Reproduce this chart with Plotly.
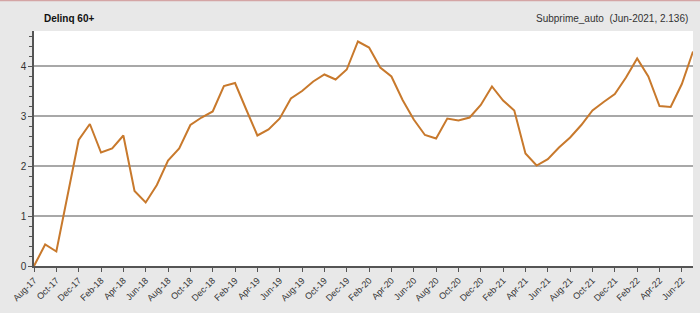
import plotly.graph_objects as go

months = ["Aug-17","Sep-17","Oct-17","Nov-17","Dec-17","Jan-18","Feb-18","Mar-18","Apr-18","May-18",
          "Jun-18","Jul-18","Aug-18","Sep-18","Oct-18","Nov-18","Dec-18","Jan-19","Feb-19","Mar-19",
          "Apr-19","May-19","Jun-19","Jul-19","Aug-19","Sep-19","Oct-19","Nov-19","Dec-19","Jan-20",
          "Feb-20","Mar-20","Apr-20","May-20","Jun-20","Jul-20","Aug-20","Sep-20","Oct-20","Nov-20",
          "Dec-20","Jan-21","Feb-21","Mar-21","Apr-21","May-21","Jun-21","Jul-21","Aug-21","Sep-21",
          "Oct-21","Nov-21","Dec-21","Jan-22","Feb-22","Mar-22","Apr-22","May-22","Jun-22","Jul-22"]

values = [0.00, 0.43, 0.29, 1.42, 2.52, 2.84, 2.27, 2.35, 2.61, 1.50,
          1.27, 1.62, 2.11, 2.35, 2.82, 2.97, 3.09, 3.60, 3.66, 3.13,
          2.61, 2.73, 2.95, 3.35, 3.50, 3.69, 3.83, 3.73, 3.93, 4.49,
          4.37, 3.97, 3.79, 3.32, 2.93, 2.62, 2.55, 2.95, 2.91, 2.97,
          3.22, 3.59, 3.31, 3.11, 2.25, 2.01, 2.136, 2.37, 2.57, 2.82,
          3.11, 3.28, 3.44, 3.77, 4.15, 3.79, 3.20, 3.18, 3.64, 4.29]

tick_labels = months[::2]
ytick_vals = [0, 1, 2, 3, 4]

x_idx = list(range(len(months)))

fig = go.Figure()
fig.add_trace(go.Scatter(
    x=x_idx, y=values, mode="lines",
    line=dict(color="#c8792c", width=2),
    name="Subprime_auto", hoverinfo="skip"))

W, H = 700, 313
ml, mr, mt, mb = 34, 7, 31, 47
pw, ph = W - ml - mr, H - mt - mb

fig.update_layout(
    width=W, height=H,
    margin=dict(l=ml, r=mr, t=mt, b=mb),
    paper_bgcolor="#e8e8e8",
    plot_bgcolor="#ffffff",
    showlegend=False,
    font=dict(family="Arial, Liberation Sans, sans-serif", color="#333333", size=10),
    xaxis=dict(
        range=[0, len(months) - 1],
        tickmode="array",
        tickvals=x_idx[::2],
        ticktext=tick_labels,
        tickangle=-45,
        ticks="outside", ticklen=4, tickcolor="#555555",
        showline=True, linecolor="#555555", linewidth=1.5,
        showgrid=False, zeroline=False,
        tickfont=dict(size=9, color="#333333"),
        fixedrange=True,
    ),
    yaxis=dict(
        range=[0, 4.7],
        tickmode="array",
        tickvals=ytick_vals,
        ticks="outside", ticklen=4, tickcolor="#555555",
        showline=True, linecolor="#555555", linewidth=1.5,
        showgrid=True, gridcolor="#a8a8a8", gridwidth=1.5,
        zeroline=False,
        tickfont=dict(size=10, color="#333333"),
        minor=dict(dtick=0.2, ticks="outside", ticklen=3, tickcolor="#555555", showgrid=False),
        fixedrange=True,
    ),
    annotations=[
        dict(text="<b>Delinq 60+</b>", xref="paper", yref="paper",
             x=(42 - ml) / pw, y=1 + (mt - 18) / ph, xanchor="left", yanchor="middle",
             showarrow=False, font=dict(size=10, color="#111111")),
        dict(text="Subprime_auto  (Jun-2021, 2.136)", xref="paper", yref="paper",
             x=(690 - ml) / pw, y=1 + (mt - 19) / ph, xanchor="right", yanchor="middle",
             showarrow=False, font=dict(size=10, color="#333333")),
    ],
    shapes=[
        dict(type="line", xref="paper", yref="paper",
             x0=-ml / pw, x1=1 + mr / pw, y0=1 + (mt - 0.5) / ph, y1=1 + (mt - 0.5) / ph,
             line=dict(color="#d4a5a5", width=1.5)),
    ],
)

fig.write_html("out.html")
